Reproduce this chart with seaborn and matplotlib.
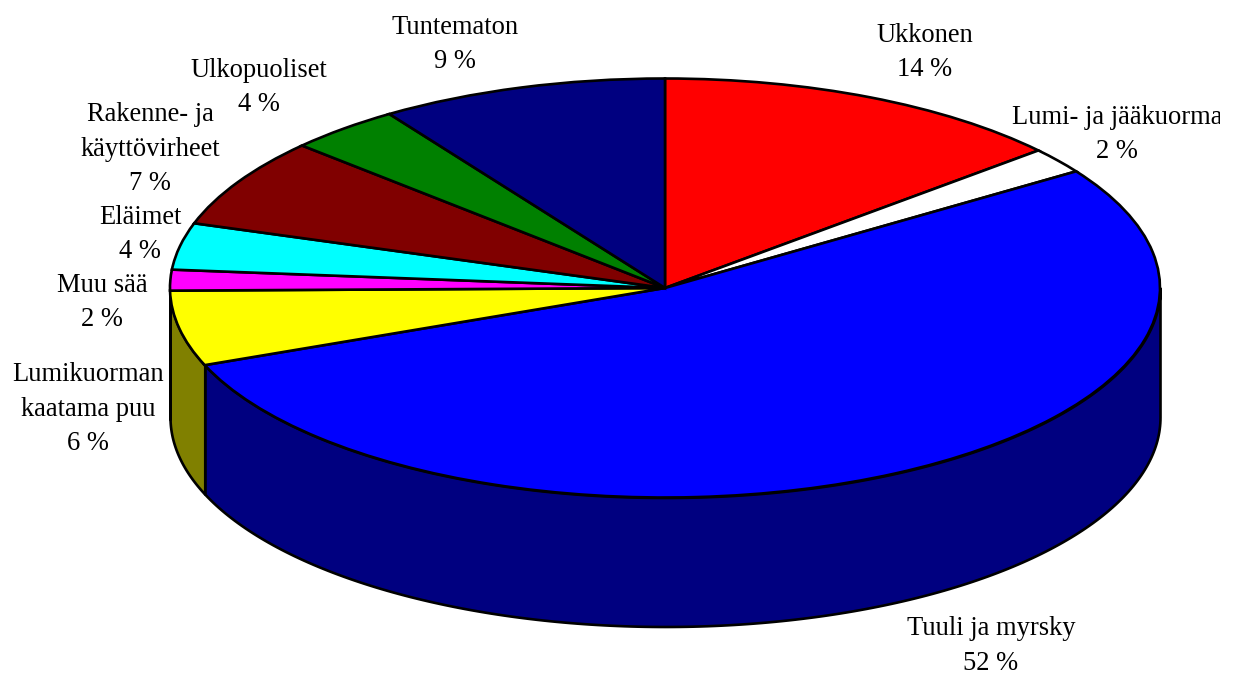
import matplotlib
matplotlib.use("Agg")
import matplotlib.pyplot as plt
import numpy as np
import seaborn as sns
from matplotlib.transforms import Bbox

categories = ["Ukkonen", "Lumi- ja jääkuorma", "Tuuli ja myrsky", "Lumikuorman\nkaatama puu",
              "Muu sää", "Eläimet", "Rakenne- ja\nkäyttövirheet", "Ulkopuoliset", "Tuntematon"]
slice_sizes = [13.6, 2.0, 53.4, 5.8, 1.6, 3.6, 6.9, 3.7, 9.4]
percent_labels = [14, 2, 52, 6, 2, 4, 7, 4, 9]
top_colors = ["#ff0000", "#ffffff", "#0000ff", "#ffff00", "#ff00ff",
              "#00ffff", "#800000", "#008000", "#000080"]
side_colors = ["#800000", "#808080", "#000080", "#808000", "#800080",
               "#008080", "#400000", "#004000", "#000040"]
# label block centres in pixels of the 1237x675 picture
label_x = [925, 1117, 991, 88, 102, 140, 150, 259, 455]
label_y = [52.5, 134.5, 646, 409, 302.5, 234.5, 149, 87.5, 44.5]

W, H = 1237, 675
cx, cy, rx, ry = 665, 288, 495, 209.5
depth = 129 / ry

sns.set_theme(style="white")
plt.rcParams["font.family"] = ["Liberation Serif", "DejaVu Serif"]

fig = plt.figure(figsize=(W / 100, H / 100), dpi=100)
ax = fig.add_axes([0, 0, 1, 1])

ax.pie(slice_sizes, colors=top_colors, startangle=90, counterclock=False, radius=1,
       wedgeprops={"edgecolor": "black", "linewidth": 1.9, "zorder": 3})
ax.set_aspect("auto")
ax.set_xlim(-cx / rx, (W - cx) / rx)
ax.set_ylim((cy - H) / ry, cy / ry)
ax.axis("off")

# side wall, only the front half of the disc shows
ends = 90 - 3.6 * np.cumsum(slice_sizes)
starts = np.r_[90, ends[:-1]]
for a0, a1, col in zip(starts, ends, side_colors):
    a = np.mod(a1, 360)
    b = a + (a0 - a1)
    lo, hi = max(a, 180), min(b, 360)
    if hi <= lo:
        continue
    t = np.radians(np.linspace(lo, hi, 200))
    ax.fill_between(np.cos(t), np.sin(t), np.sin(t) - depth, facecolor=col,
                    edgecolor="black", linewidth=1.9, zorder=1)

for name, pct, x, y in zip(categories, percent_labels, label_x, label_y):
    txt = ax.text(x / W, 1 - y / H, f"{name}\n{pct} %", transform=ax.transAxes,
                  ha="center", va="center", fontsize=19.1, color="black",
                  linespacing=1.48, zorder=5)
    # the original cuts the Lumi- ja jääkuorma label at the chart edge
    txt.set_clip_box(Bbox([[0, 0], [1220, H]]))
    txt.set_clip_on(True)

fig.savefig("out.png", dpi=100, facecolor="white")
